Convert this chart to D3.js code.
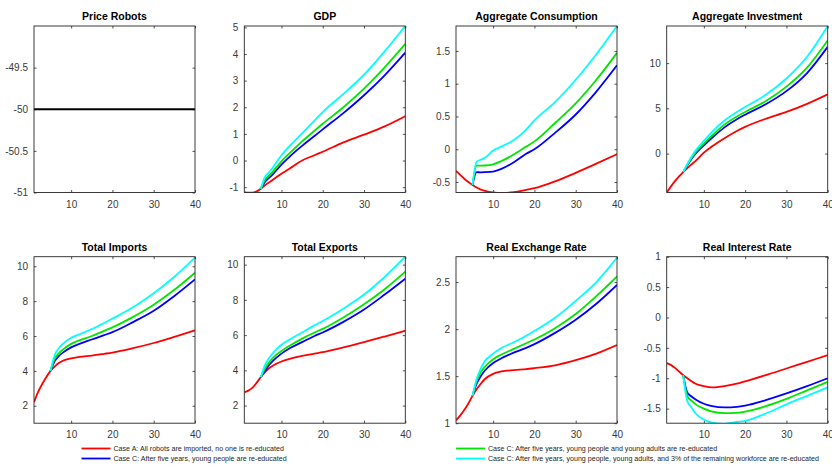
<!DOCTYPE html>
<html>
<head>
<meta charset="utf-8">
<script src="https://cdn.jsdelivr.net/npm/d3@7"></script>
<style>
  body { margin: 0; background: #fff; }
  svg { display: block; font-family: "Liberation Sans", Arial, Helvetica, sans-serif; }
</style>
</head>
<body>
<svg id="chart" width="832" height="465"></svg>
<script>
// ---------- data ----------
var yearsA = [1, 2, 3, 4, 5, 6, 7, 8, 10, 12, 15, 18, 20, 25, 30, 35, 40];
var yearsC = [5, 6, 7, 8, 10, 12, 15, 18, 20, 25, 30, 35, 40];
var yearsPrice = [1, 40];

var titles = ["Price Robots", "GDP", "Aggregate Consumption", "Aggregate Investment",
              "Total Imports", "Total Exports", "Real Exchange Rate", "Real Interest Rate"];

var priceRobots = [-50, -50];

var gdpA      = [-1.19, -1.21, -1.21, -1.16, -1.06, -0.93, -0.82, -0.71, -0.5, -0.3, 0.0, 0.2, 0.33, 0.68, 0.97, 1.28, 1.66];
var gdpYoung  = [-1.06, -0.8, -0.65, -0.5, -0.15, 0.15, 0.55, 0.92, 1.17, 1.78, 2.45, 3.2, 4.05];
var gdpAdults = [-1.06, -0.72, -0.56, -0.4, -0.03, 0.28, 0.72, 1.12, 1.38, 2.0, 2.7, 3.5, 4.38];
var gdpAll    = [-1.06, -0.62, -0.44, -0.24, 0.2, 0.55, 1.02, 1.5, 1.82, 2.5, 3.22, 4.1, 5.05];

var consA      = [-0.33, -0.39, -0.45, -0.5, -0.545, -0.585, -0.615, -0.635, -0.66, -0.668, -0.655, -0.62, -0.595, -0.49, -0.36, -0.22, -0.075];
var consYoung  = [-0.545, -0.35, -0.352, -0.35, -0.34, -0.3, -0.2, -0.07, 0.0, 0.25, 0.53, 0.88, 1.28];
var consAdults = [-0.545, -0.25, -0.25, -0.248, -0.23, -0.18, -0.08, 0.04, 0.12, 0.4, 0.7, 1.06, 1.47];
var consAll    = [-0.545, -0.19, -0.16, -0.13, -0.02, 0.04, 0.14, 0.3, 0.44, 0.72, 1.06, 1.45, 1.88];

var invA      = [-4.3, -3.65, -3.05, -2.52, -2.05, -1.6, -1.2, -0.8, 0.1, 0.8, 1.7, 2.5, 2.95, 3.85, 4.6, 5.5, 6.55];
var invYoung  = [-2.05, -1.3, -0.6, 0.0, 0.9, 1.75, 2.9, 3.8, 4.3, 5.45, 6.9, 8.9, 11.8];
var invAdults = [-2.05, -1.25, -0.5, 0.15, 1.1, 2.0, 3.2, 4.1, 4.6, 5.8, 7.4, 9.5, 12.5];
var invAll    = [-2.05, -1.15, -0.35, 0.35, 1.4, 2.4, 3.65, 4.6, 5.15, 6.5, 8.3, 10.7, 14.1];

var impA      = [2.2, 2.8, 3.25, 3.65, 4.0, 4.25, 4.45, 4.58, 4.72, 4.8, 4.88, 4.98, 5.05, 5.3, 5.6, 5.95, 6.32];
var impYoung  = [4.0, 4.55, 4.85, 5.05, 5.35, 5.55, 5.8, 6.05, 6.22, 6.8, 7.45, 8.3, 9.25];
var impAdults = [4.0, 4.7, 5.0, 5.22, 5.55, 5.75, 6.0, 6.3, 6.5, 7.1, 7.8, 8.65, 9.63];
var impAll    = [4.0, 4.9, 5.3, 5.55, 5.9, 6.1, 6.4, 6.75, 7.0, 7.65, 8.45, 9.4, 10.5];

var expA      = [2.75, 2.85, 3.02, 3.3, 3.62, 3.9, 4.12, 4.28, 4.5, 4.65, 4.82, 4.95, 5.03, 5.3, 5.6, 5.92, 6.25];
var expYoung  = [3.62, 3.95, 4.3, 4.55, 4.95, 5.25, 5.6, 5.95, 6.15, 6.75, 7.45, 8.3, 9.2];
var expAdults = [3.62, 4.1, 4.45, 4.72, 5.1, 5.4, 5.8, 6.15, 6.35, 7.0, 7.75, 8.6, 9.6];
var expAll    = [3.62, 4.3, 4.7, 5.0, 5.45, 5.75, 6.15, 6.55, 6.8, 7.5, 8.3, 9.3, 10.45];

var rerA      = [1.03, 1.08, 1.14, 1.21, 1.29, 1.36, 1.42, 1.47, 1.525, 1.55, 1.565, 1.575, 1.585, 1.615, 1.67, 1.74, 1.83];
var rerYoung  = [1.29, 1.42, 1.5, 1.56, 1.64, 1.69, 1.75, 1.8, 1.84, 1.96, 2.1, 2.27, 2.47];
var rerAdults = [1.29, 1.45, 1.54, 1.6, 1.68, 1.73, 1.79, 1.85, 1.89, 2.01, 2.16, 2.35, 2.56];
var rerAll    = [1.29, 1.47, 1.58, 1.66, 1.74, 1.8, 1.86, 1.93, 1.98, 2.12, 2.3, 2.5, 2.76];

var rirA      = [-0.75, -0.78, -0.83, -0.89, -0.95, -1.0, -1.05, -1.09, -1.13, -1.15, -1.13, -1.09, -1.05, -0.95, -0.84, -0.73, -0.62];
var rirYoung  = [-0.95, -1.24, -1.3, -1.35, -1.42, -1.46, -1.48, -1.47, -1.45, -1.36, -1.25, -1.13, -1.0];
var rirAdults = [-0.95, -1.3, -1.37, -1.43, -1.5, -1.55, -1.575, -1.57, -1.55, -1.46, -1.34, -1.2, -1.06];
var rirAll    = [-0.95, -1.38, -1.48, -1.58, -1.68, -1.73, -1.75, -1.72, -1.7, -1.58, -1.43, -1.29, -1.15];

var yDomains = [[-51, -49], [-1.2, 5.05], [-0.66, 1.88], [-4.3, 14.1],
                [1, 10.55], [1, 10.45], [1, 2.77], [-1.74, 1]];
var yTicks = [[-51, -50.5, -50, -49.5], [-1, 0, 1, 2, 3, 4, 5], [-0.5, 0, 0.5, 1, 1.5], [0, 5, 10],
              [2, 4, 6, 8, 10], [2, 4, 6, 8, 10], [1, 1.5, 2, 2.5], [-1.5, -1, -0.5, 0, 0.5, 1]];
var xTicks = [10, 20, 30, 40];

var legendLabels = [
  "Case A: All robots are imported, no one is re-educated",
  "Case C: After five years, young people are re-educated",
  "Case C: After five years, young people and young adults are re-educated",
  "Case C: After five years, young people, young adults, and 3% of the remaining workforce are re-educated"
];
var caseColors = ["#ff0000", "#0000ff", "#00e600", "#00ffff"];

// ---------- build panel table ----------
function mk(xs, ys) { return xs.map(function(x, i) { return { t: x, v: ys[i] }; }); }
function fourCases(a, b, c, d) {
  return [mk(yearsA, a), mk(yearsC, b), mk(yearsC, c), mk(yearsC, d)];
}
var panelSeries = [
  [mk(yearsPrice, priceRobots)],
  fourCases(gdpA, gdpYoung, gdpAdults, gdpAll),
  fourCases(consA, consYoung, consAdults, consAll),
  fourCases(invA, invYoung, invAdults, invAll),
  fourCases(impA, impYoung, impAdults, impAll),
  fourCases(expA, expYoung, expAdults, expAll),
  fourCases(rerA, rerYoung, rerAdults, rerAll),
  fourCases(rirA, rirYoung, rirAdults, rirAll)
];

// ---------- layout ----------
var colX = [34, 244.3, 456, 666.7];
var rowY = [26, 256.7];
var pw = 161, ph = 166.5;
var axisColor = "#262626";
var tickLen = 2.5;

var svg = d3.select("#chart");
var defs = svg.append("defs");

titles.forEach(function(title, i) {
  var col = i % 4, row = Math.floor(i / 4);
  var g = svg.append("g").attr("transform", "translate(" + colX[col] + "," + rowY[row] + ")");

  var x = d3.scaleLinear().domain([1, 40]).range([0, pw]);
  var y = d3.scaleLinear().domain(yDomains[i]).range([ph, 0]);

  defs.append("clipPath").attr("id", "clip" + i)
    .append("rect").attr("width", pw).attr("height", ph);

  // y axis (left labels + inner ticks), mirror on right
  var yAxis = d3.axisLeft(y).tickValues(yTicks[i]).tickSizeInner(-tickLen).tickSizeOuter(0)
    .tickPadding(6).tickFormat(function(d) { return String(d); });
  g.append("g").call(yAxis);
  g.append("g").attr("transform", "translate(" + pw + ",0)")
    .call(d3.axisRight(y).tickValues(yTicks[i]).tickSizeInner(-tickLen).tickSizeOuter(0).tickFormat(""));

  var xAxis = d3.axisBottom(x).tickValues(xTicks).tickSizeInner(-tickLen).tickSizeOuter(0)
    .tickPadding(8).tickFormat(d3.format("d"));
  g.append("g").attr("transform", "translate(0," + ph + ")").call(xAxis);
  g.append("g").call(d3.axisTop(x).tickValues(xTicks).tickSizeInner(-tickLen).tickSizeOuter(0).tickFormat(""));

  g.selectAll(".domain").remove();
  g.selectAll(".tick line").attr("stroke", axisColor).attr("stroke-width", 0.8);
  g.selectAll(".tick text").attr("fill", "#3a3a3a").attr("font-size", 10)
    .attr("font-family", "Liberation Sans, Arial, sans-serif");

  // lines
  var line = d3.line().x(function(d) { return x(d.t); }).y(function(d) { return y(d.v); })
    .curve(d3.curveMonotoneX);
  var lg = g.append("g").attr("clip-path", "url(#clip" + i + ")");
  lg.selectAll("path").data(panelSeries[i]).enter().append("path")
    .attr("d", line)
    .attr("fill", "none")
    .attr("stroke", function(d, k) { return i === 0 ? "#000" : caseColors[k]; })
    .attr("stroke-width", i === 0 ? 2.2 : 1.8)
    .attr("stroke-linejoin", "round");

  // box
  g.append("rect").attr("width", pw).attr("height", ph)
    .attr("fill", "none").attr("stroke", axisColor).attr("stroke-width", 0.9);

  // title
  g.append("text").attr("x", pw / 2).attr("y", -6)
    .attr("text-anchor", "middle").attr("font-size", 10.5).attr("font-weight", "bold")
    .attr("fill", "#000").text(title);
});

// ---------- legend ----------
var legendPos = [[81.5, 448.5], [81.5, 458.5], [456, 448.5], [456, 458.5]];
var legend = svg.append("g").attr("class", "legend");
var items = legend.selectAll("g").data(legendLabels).enter().append("g")
  .attr("transform", function(d, k) { return "translate(" + legendPos[k][0] + "," + legendPos[k][1] + ")"; });
items.append("line").attr("x1", 0).attr("x2", 29).attr("y1", 0).attr("y2", 0)
  .attr("stroke", function(d, k) { return caseColors[k]; }).attr("stroke-width", 1.8);
items.append("text").attr("x", 32).attr("y", 0).attr("dy", "0.35em")
  .attr("font-size", 7.1).attr("fill", axisColor).text(function(d) { return d; });
</script>
</body>
</html>
